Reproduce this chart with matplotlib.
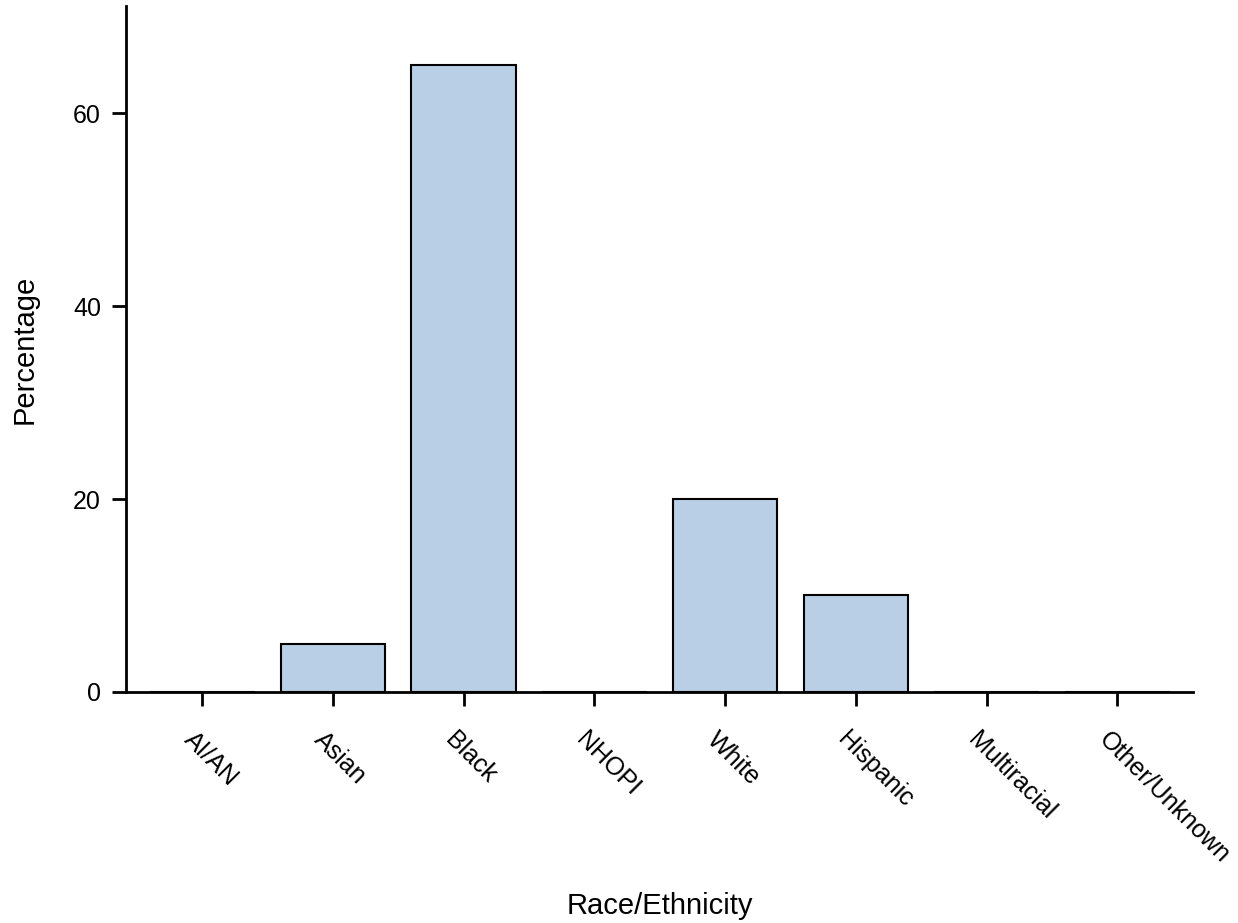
import matplotlib
matplotlib.use("Agg")
import matplotlib.pyplot as plt
import matplotlib.transforms as mtransforms
import numpy as np

categories = ["AI/AN", "Asian", "Black", "NHOPI", "White", "Hispanic",
              "Multiracial", "Other/Unknown"]
percentages = [0, 5, 65, 0, 20, 10, 0, 0]
y_ticks = [0, 20, 40, 60]

plt.rcParams["font.family"] = ["Liberation Sans", "DejaVu Sans"]

fig = plt.figure(figsize=(12.38, 9.23), dpi=100)
ax = fig.add_axes([0.1018, 0.2503, 0.8619, 0.7432])

x = np.arange(len(categories))
ax.bar(x, percentages, width=0.8, color="#b8cfe6", edgecolor="black",
       linewidth=1.5, clip_on=False, zorder=3)

ax.set_xlim(-0.584, len(categories) - 1 + 0.58)
ax.set_ylim(0, 71.1)
ax.set_yticks(y_ticks)
ax.set_xticks(x)
ax.set_xticklabels(categories, rotation=-45, ha="left", va="top",
                   rotation_mode="anchor")

for side in ("top", "right"):
    ax.spines[side].set_visible(False)
for side in ("left", "bottom"):
    ax.spines[side].set_linewidth(2)

ax.tick_params(axis="both", direction="out", length=10, width=2,
               labelsize=18, pad=8)
ax.tick_params(axis="x", pad=6)

# nudge rotated labels down-left a little
shift = mtransforms.ScaledTranslation(-4.5 / 72, -9.5 / 72, fig.dpi_scale_trans)
for lbl in ax.get_xticklabels():
    lbl.set_transform(lbl.get_transform() + shift)

ax.set_ylabel("Percentage", fontsize=21, labelpad=25)
ax.set_xlabel("Race/Ethnicity", fontsize=21, va="top")
ax.xaxis.set_label_coords(0.5, -0.292)

fig.savefig("out.png", dpi=100)
